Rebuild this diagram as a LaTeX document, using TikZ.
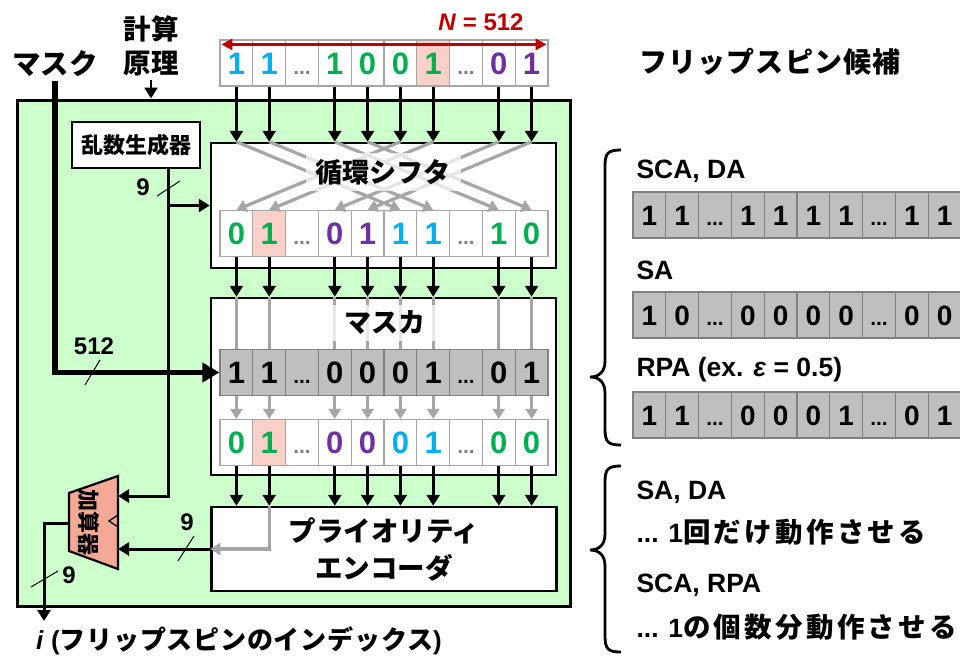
\documentclass[tikz,border=0pt]{standalone}
\usepackage{fontspec}
\setmainfont{Liberation Sans}
\newfontfamily\jp{Noto Sans CJK JP}
\newfontfamily\jpw{Noto Sans CJK JP}[LetterSpace=12]
\newfontfamily\jps{Noto Sans CJK JP}[LetterSpace=3]
\usetikzlibrary{arrows.meta,calc}
\definecolor{gfill}{HTML}{CCFFCC}
\definecolor{cb}{HTML}{00B0F0}
\definecolor{cg}{HTML}{00B050}
\definecolor{cp}{HTML}{7030A0}
\definecolor{dg}{HTML}{808080}
\definecolor{pinkc}{HTML}{FAD0C8}
\definecolor{cellgray}{HTML}{A6A6A6}
\definecolor{grayfill}{HTML}{BFBFBF}
\definecolor{glin}{HTML}{A6A6A6}
\definecolor{addc}{HTML}{F4A896}
\definecolor{redc}{HTML}{C00000}
\newcommand\dd{{\fontsize{21}{21}\selectfont ...}}
\begin{document}
\begin{tikzpicture}[x=1pt,y=-1pt,
  cell/.style={draw=cellgray, line width=1.2pt, minimum width=32.8pt, minimum height=46pt, inner sep=0pt,
    text height=22pt, text depth=0pt, font=\bfseries\fontsize{31}{31}\selectfont},
  rcell/.style={draw=dg, line width=1.2pt, fill=grayfill, minimum width=32.8pt, minimum height=46pt, inner sep=0pt,
    text height=20pt, text depth=0pt, font=\bfseries\fontsize{28}{28}\selectfont},
  bbox/.style={draw=black, fill=white, line width=2.5pt, inner sep=0pt},
  barr/.style={draw=black, line width=3pt, -{Triangle[length=11pt,width=13pt]}},
  garr/.style={draw=glin, line width=3.2pt, -{Triangle[length=10pt,width=12pt]}},
  gln/.style={draw=glin, line width=3.2pt},
  jpt/.style={font=\jp\bfseries\fontsize{27}{34}\selectfont},
  lat/.style={font=\bfseries\fontsize{24}{24}\selectfont},
  rlat/.style={font=\bfseries\fontsize{26.5}{26.5}\selectfont, anchor=west},
  tick/.style={draw=black, line width=1pt},
  brace/.style={draw=black, line width=2.8pt}
]
\useasboundingbox (0,0) rectangle (960,664);

% green main box
\node[draw=black, fill=gfill, line width=3pt, minimum width=553pt, minimum height=506pt, inner sep=0pt] (gb) at (293.5,353) {};

% inner blocks
\node[bbox, minimum width=128pt, minimum height=46pt, font=\jp\bfseries\fontsize{22}{22}\selectfont] (rng) at (136,145) {乱数生成器};
\node[bbox, minimum width=345pt, minimum height=125pt] (shf) at (383.5,205.5) {};
\node[bbox, minimum width=345pt, minimum height=177pt] (mask) at (383.5,386.5) {};
\node[bbox, minimum width=345pt, minimum height=84pt, align=center, font=\jp\bfseries\fontsize{27.5}{37}\selectfont] (pe) at (384,549) {プライオリティ\\エンコーダ};

% top array
\foreach \v/\c/\f [count=\i] in {1/cb/white,1/cb/white,\dd/dg/white,1/cg/white,0/cg/white,0/cg/white,1/cg/pinkc,\dd/dg/white,0/cp/white,1/cp/white}
  \node[cell, fill=\f, text=\c] (t\i) at ({220+(\i-0.5)*32.8},63) {\v};
% shifted array
\foreach \v/\c/\f [count=\i] in {0/cg/white,1/cg/pinkc,\dd/dg/white,0/cp/white,1/cp/white,1/cb/white,1/cb/white,\dd/dg/white,1/cg/white,0/cg/white}
  \node[cell, fill=\f, text=\c] (s\i) at ({220+(\i-0.5)*32.8},233.5) {\v};
% mask array
\foreach \v [count=\i] in {1,1,\dd,0,0,0,1,\dd,0,1}
  \node[rcell, font=\bfseries\fontsize{31}{31}\selectfont, text height=22pt] (m\i) at ({220+(\i-0.5)*32.8},372.5) {\v};
% output array
\foreach \v/\c/\f [count=\i] in {0/cg/white,1/cg/pinkc,\dd/dg/white,0/cp/white,0/cp/white,0/cb/white,1/cb/white,\dd/dg/white,0/cg/white,0/cg/white}
  \node[cell, fill=\f, text=\c] (o\i) at ({220+(\i-0.5)*32.8},442.5) {\v};

% N = 512
\draw[draw=redc, line width=2.8pt, {Triangle[length=11pt,width=11pt]}-{Triangle[length=11pt,width=11pt]}]
  ([shift={(2,5)}]t1.north west) -- ([shift={(-2,5)}]t10.north east);
\node[text=redc, font=\bfseries\fontsize{24}{24}\selectfont] (nlab) at (481,22) {\textit{N} = 512};

% arrows between stages
\foreach \i in {1,2,4,5,6,7,9,10} {
  \draw[barr] (t\i.south) -- (t\i |- shf.north);
  \draw[barr] (s\i.south) -- (s\i |- mask.north);
  \draw[gln] (s\i |- mask.north) -- (m\i.north);
  \draw[garr] (m\i.south) -- (o\i.north);
  \draw[barr] (o\i.south) -- (o\i |- pe.north);
}
% shifter crossing lines
\foreach \a/\b in {1/6,2/7,4/9,5/10,6/1,7/2,9/4,10/5}
  \draw[garr] (t\a |- shf.north) -- (s\b.north);

% titles with fade
\node[jpt, fill=white, fill opacity=0.7, text opacity=1, inner xsep=10pt, inner ysep=6pt] (shft) at (383,172) {循環シフタ};
\node[jpt, fill=white, fill opacity=0.75, text opacity=1, minimum width=118pt, inner ysep=6pt] (maskt) at (385,323) {マスカ};

% priority encoder gray path
\draw[garr] (o2 |- pe.north) -- (o2 |- pe.west) -- (pe.west);

% labels top-left
\node[font=\jp\bfseries\fontsize{28.5}{28.5}\selectfont] (mlab) at (55,64) {マスク};
\node[align=center, font=\jp\bfseries\fontsize{27.5}{34}\selectfont] (kg) at (151,46) {計算\\原理};
\draw[barr, line width=2.5pt] (kg.south) -- (kg.south |- gb.north);

% mask input (thick)
\draw[draw=black, line width=5.5pt, -{Triangle[length=17pt,width=19pt]}] (mlab.south) -- (mlab.south |- m1.west) -- (m1.west);
\node[lat] (l512) at (94,346) {512};
\draw[tick] (85,385) -- (100,360);

% RNG output
\coordinate (rngout) at (168,168);
\coordinate (j1) at (rngout |- shf.west);
\draw[draw=black, line width=3pt] (rngout) -- (j1);
\draw[barr] (j1) -- (shf.west);
\coordinate (add1) at (118,496);
\draw[barr] (j1) -- (j1 |- add1) -- (add1);
\node[lat] (l9a) at (143,187) {9};
\draw[tick] (157,196) -- (180,181);

% adder
\draw[draw=black, fill=addc, line width=2.2pt] (69,493) -- (118,476) -- (118,569) -- (69,551) -- cycle;
\node[rotate=-90, font=\jp\bfseries\fontsize{22}{22}\selectfont] (addt) at (89,522) {加算器};
\draw[draw=black, line width=1.3pt] (118,515) -- (109,521) -- (118,527);
\coordinate (addR) at (118,549);
\draw[barr] (pe.west) -- (pe.west -| addR);
\node[lat] (l9b) at (187,522) {9};
\draw[tick] (178,561) -- (194,536);

% output
\coordinate (addL) at (69,523);
\coordinate (iout) at (44,621);
\draw[barr] (addL) -- (addL -| iout) -- (iout);
\node[lat] (l9c) at (69,575) {9};
\draw[tick] (31,587) -- (58,571);
\node[anchor=west, inner sep=0pt] (ilab) at (36,641) {\bfseries\fontsize{26}{26}\selectfont\textit{i} ({\jps フリップスピンのインデックス})};

% right side
\node[font=\jp\bfseries\fontsize{28}{28}\selectfont, inner sep=0pt] (fsc) at (770,62) {{\addfontfeature{LetterSpace=4}フリップスピン候補}};
\draw[brace] (621,150) .. controls (608,150) and (605,153) .. (605,166) -- (605,361)
  .. controls (605,372) and (599,377) .. (590,377) .. controls (599,377) and (605,382) .. (605,393)
  -- (605,429) .. controls (605,442) and (608,445) .. (621,445);
\node[rlat] (lsca) at (633,171) {SCA, DA};
\node[rlat] (lsa) at (633,270) {SA};
\node[rlat] (lrpa) at (633,370) {RPA (ex. \textit{ε} = 0.5)};
\foreach \v [count=\i] in {1,1,\dd,1,1,1,1,\dd,1,1}
  \node[rcell] (ra\i) at ({633+(\i-0.5)*32.8},215) {\v};
\foreach \v [count=\i] in {1,0,\dd,0,0,0,0,\dd,0,0}
  \node[rcell] (rb\i) at ({633+(\i-0.5)*32.8},315) {\v};
\foreach \v [count=\i] in {1,1,\dd,0,0,0,1,\dd,0,1}
  \node[rcell] (rc\i) at ({633+(\i-0.5)*32.8},415) {\v};

\draw[brace] (621,466) .. controls (608,466) and (605,469) .. (605,482) -- (605,534)
  .. controls (605,545) and (599,550) .. (590,550) .. controls (599,550) and (605,555) .. (605,566)
  -- (605,636) .. controls (605,649) and (608,652) .. (621,652);
\node[rlat] (lsada) at (633,492) {SA, DA};
\node[rlat] (lone) at (633,532) {... 1{\jpw\fontsize{27.5}{27.5}\selectfont 回だけ動作させる}};
\node[rlat] (lscarpa) at (633,585) {SCA, RPA};
\node[rlat] (lcnt) at (633,627) {... 1{\jpw\fontsize{27.5}{27.5}\selectfont の個数分動作させる}};
\end{tikzpicture}
\end{document}
